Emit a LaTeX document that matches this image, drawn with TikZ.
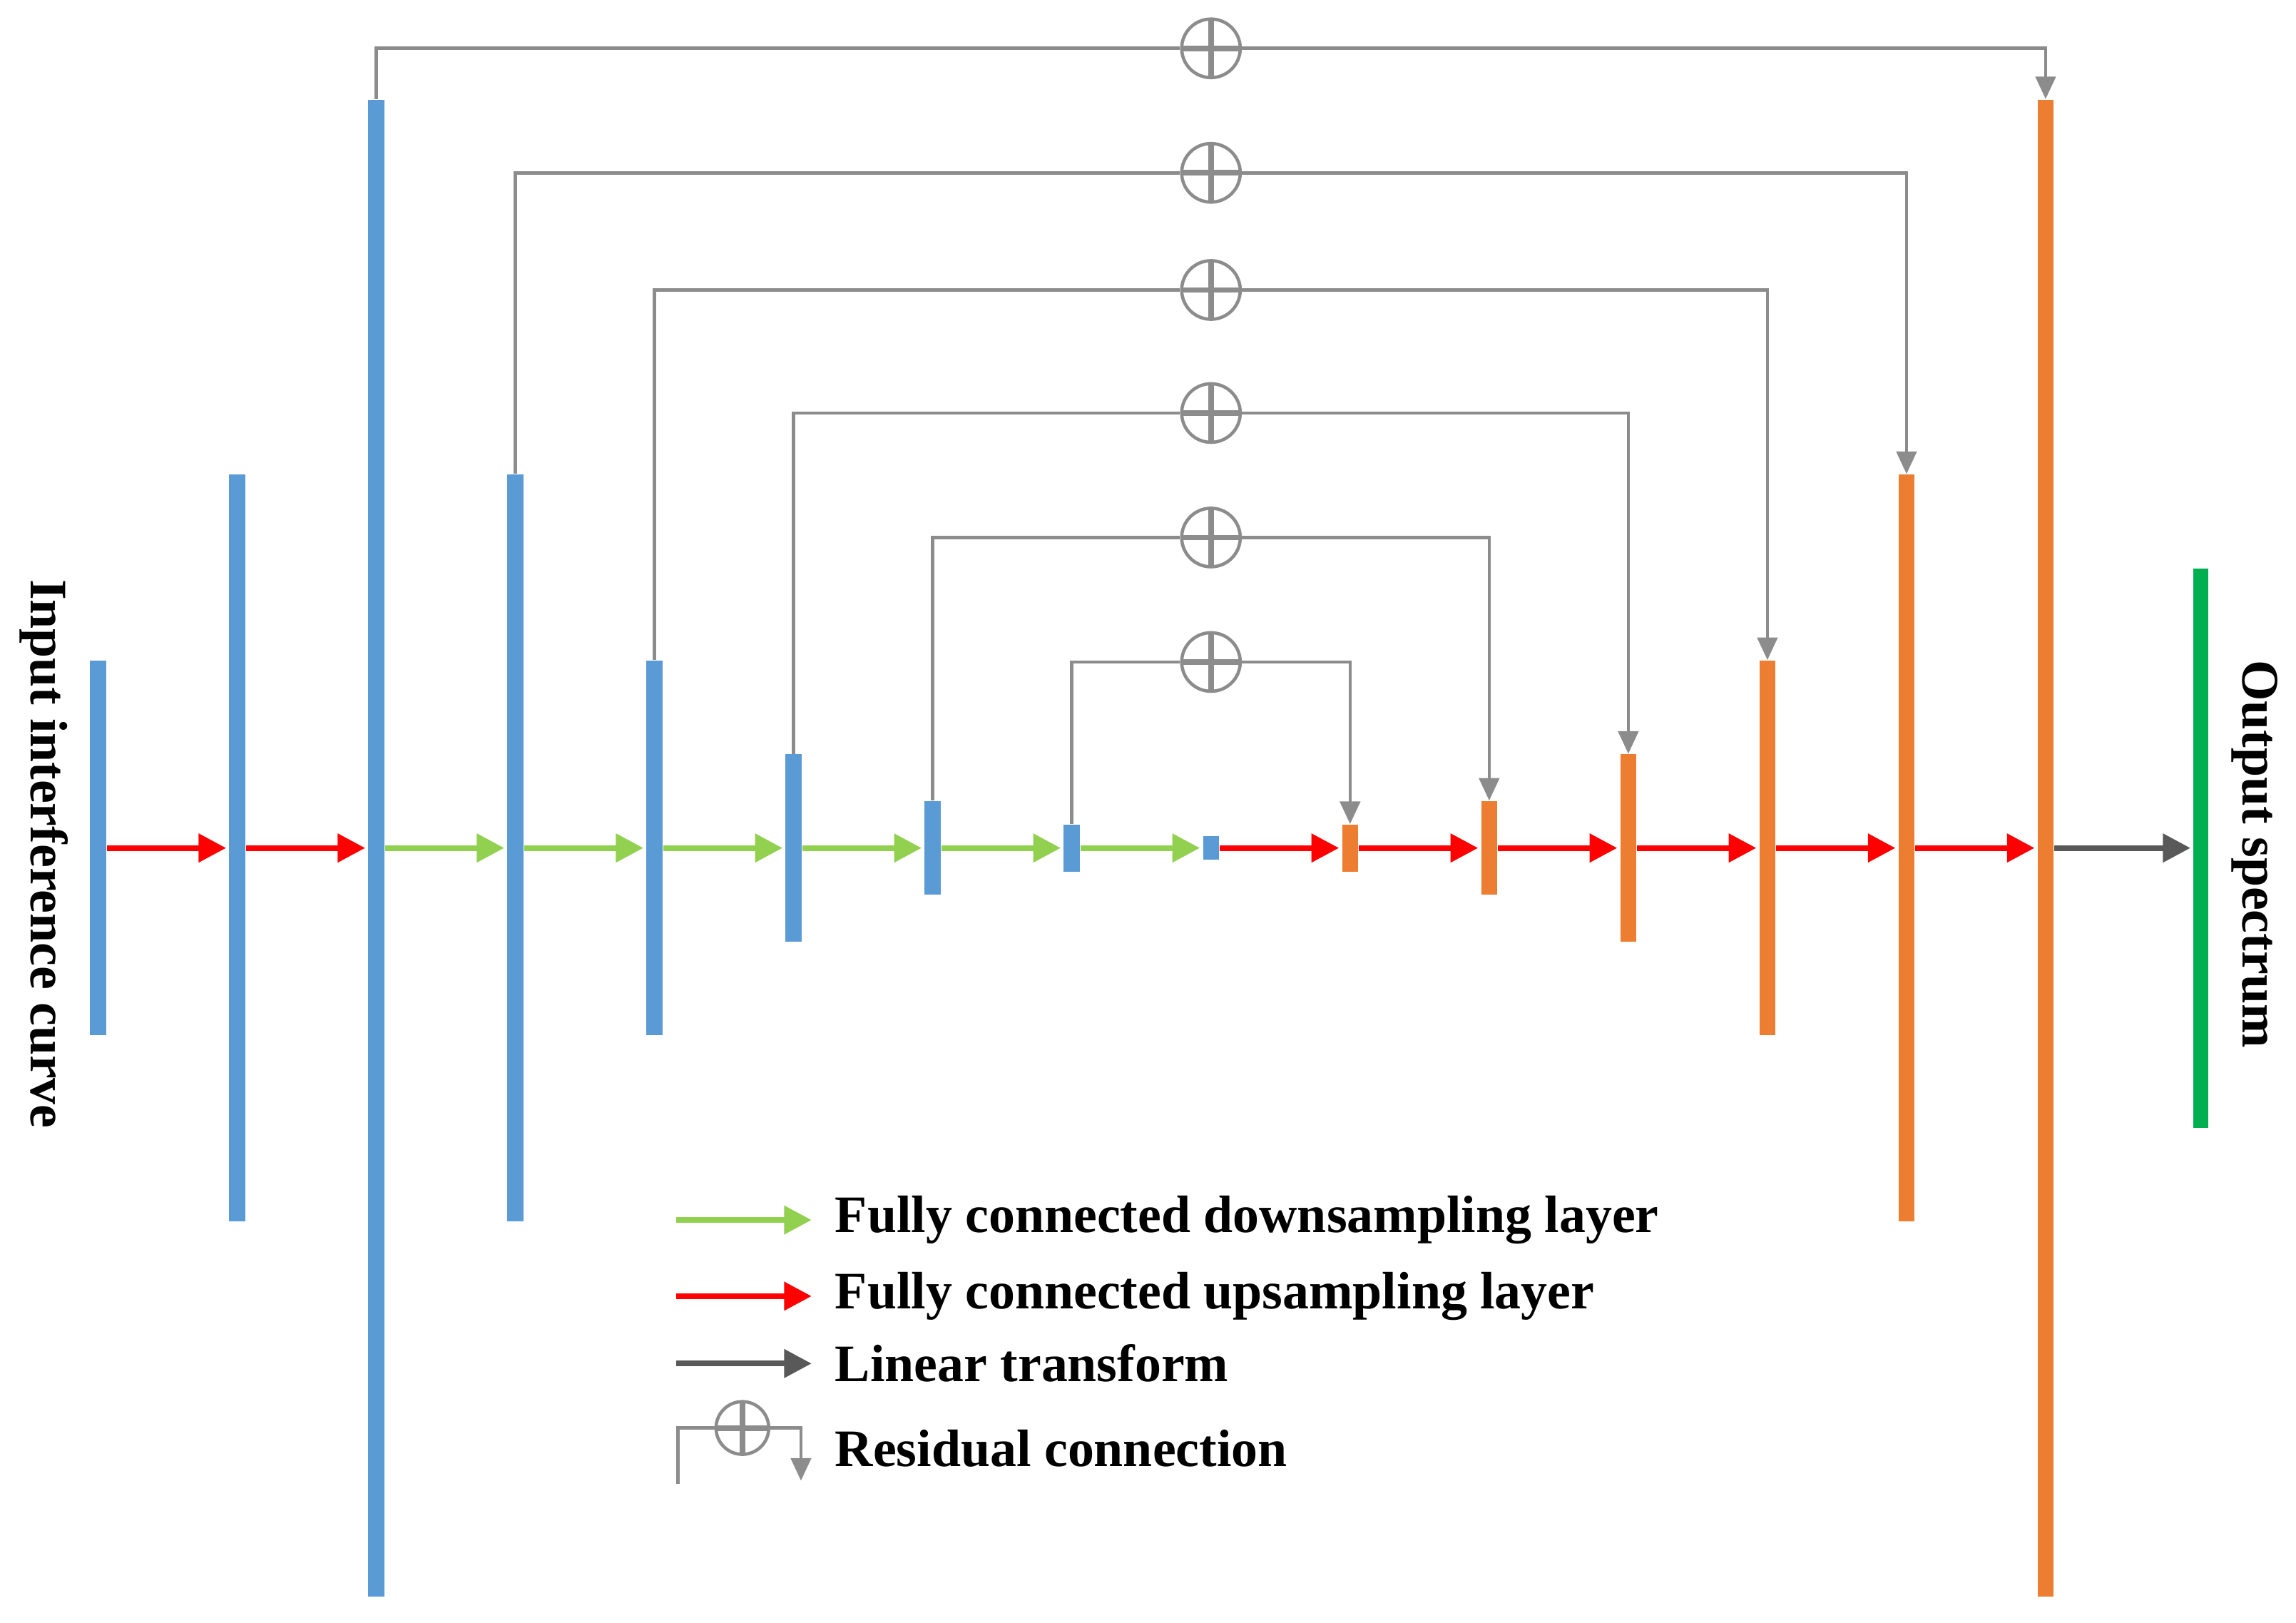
\documentclass[tikz,border=0pt]{standalone}
\usepackage{fontspec}
\setmainfont{Liberation Serif}
\usetikzlibrary{arrows.meta}
\definecolor{cb}{HTML}{5B9BD5}
\definecolor{co}{HTML}{ED7D31}
\definecolor{cg}{HTML}{00B050}
\definecolor{clg}{HTML}{92D050}
\definecolor{cgr}{HTML}{8C8C8C}
\definecolor{cdg}{HTML}{595959}
\begin{document}
\begin{tikzpicture}[x=0.02053cm,y=-0.02053cm,
 bar/.style={draw=none,inner sep=0,minimum width=11*0.02053cm,rectangle},
 fa/.style={line width=2.3pt,-{Triangle[length=11pt,width=11pt]},shorten >=1pt},
 res/.style={draw=cgr,line width=1.3pt},
 plus/.style={circle,draw=cgr,line width=1.3pt,minimum size=40*0.02053cm,inner sep=0,fill=white,
   path picture={\draw[cgr,line width=2.2pt] ([xshift=-12pt]path picture bounding box.center)--([xshift=12pt]path picture bounding box.center) ([yshift=-12pt]path picture bounding box.center)--([yshift=12pt]path picture bounding box.center);}},
 lab/.style={font=\fontsize{21}{24}\selectfont\bfseries,inner sep=0}]
\useasboundingbox (0,0) rectangle (1568,1108);
\foreach \n/\x/\h/\c in {1/67/128/cb,2/162/255/cb,3/257/511/cb,4/352/255/cb,5/447/128/cb,6/542/64/cb,7/637/32/cb,8/732/16/cb,9/827/8/cb,10/922/16/co,11/1017/32/co,12/1112/64/co,13/1207/128/co,14/1302/255/co,15/1397/511/co}
  \node[bar,fill=\c,minimum height=2*\h*0.02053cm] (b\n) at (\x,579) {};
\node[bar,fill=cg,minimum width=10*0.02053cm,minimum height=382*0.02053cm] (g) at (1503,579) {};
\foreach \a/\b in {1/2,2/3,9/10,10/11,11/12,12/13,13/14,14/15}
  \draw[fa,red] (b\a.east) -- (b\b.west);
\foreach \a/\b in {3/4,4/5,5/6,6/7,7/8,8/9}
  \draw[fa,clg] (b\a.east) -- (b\b.west);
\draw[fa,cdg] (b15.east) -- (g.west);
\foreach \a/\b/\y/\k in {3/15/33/1,4/14/118/2,5/13/198/3,6/12/282/4,7/11/367/5,8/10/452/6}{
  \node[plus] (p\k) at (827,\y) {};
  \draw[res] (b\a.north) |- (p\k.west);
  \draw[res,-{Triangle[length=9pt,width=8pt]}] (p\k.east) -| (b\b.north);
}
\node[lab,rotate=-90] (in) at (30,583) {Input interference curve};
\node[lab,rotate=-90] (out) at (1540,583) {Output spectrum};
\coordinate (l1a) at (462,833); \coordinate (l1b) at (556,833);
\coordinate (l2a) at (462,885); \coordinate (l2b) at (556,885);
\coordinate (l3a) at (462,931); \coordinate (l3b) at (556,931);
\draw[fa,clg] (l1a) -- (l1b);
\draw[fa,red] (l2a) -- (l2b);
\draw[fa,cdg] (l3a) -- (l3b);
\node[lab,anchor=west] (t1) at (570,833) {Fully connected downsampling layer};
\node[lab,anchor=west] (t2) at (570,885) {Fully connected upsampling layer};
\node[lab,anchor=west] (t3) at (570,931) {Linear transform};
\node[lab,anchor=west] (t4) at (570,989) {Residual connection};
\coordinate (r0) at (463,1013); \coordinate (r1) at (547,1011);
\node[plus,minimum size=36*0.02053cm] (pl) at (507,975) {};
\draw[res] (r0) |- (pl.west);
\draw[res,-{Triangle[length=9pt,width=8pt]}] (pl.east) -| (r1);
\end{tikzpicture}
\end{document}
